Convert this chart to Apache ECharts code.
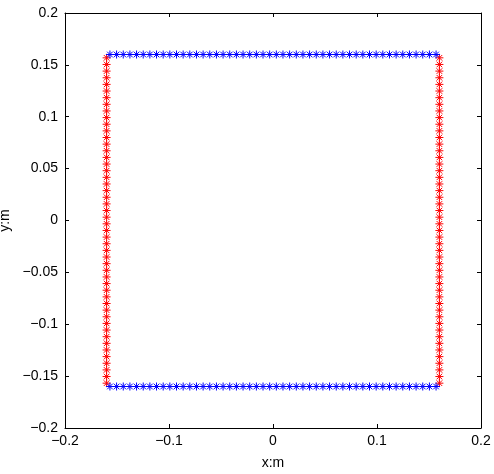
<!DOCTYPE html>
<html><head><meta charset="utf-8">
<script src="https://cdn.jsdelivr.net/npm/echarts@6/dist/echarts.min.js"></script>
<style>html,body{margin:0;padding:0;background:#fff}#c{width:494px;height:474px}</style>
</head><body><div id="c"></div>
<script>
// Positions of the markers along each edge (m)
const edgePositions = [-0.1568,-0.1504,-0.1440,-0.1376,-0.1312,-0.1248,-0.1184,-0.1120,-0.1056,-0.0992,
  -0.0928,-0.0864,-0.0800,-0.0736,-0.0672,-0.0608,-0.0544,-0.0480,-0.0416,-0.0352,
  -0.0288,-0.0224,-0.0160,-0.0096,-0.0032,0.0032,0.0096,0.0160,0.0224,0.0288,
  0.0352,0.0416,0.0480,0.0544,0.0608,0.0672,0.0736,0.0800,0.0864,0.0928,
  0.0992,0.1056,0.1120,0.1184,0.1248,0.1312,0.1376,0.1440,0.1504,0.1568];
const topY = 0.16, bottomY = -0.16, leftX = -0.16, rightX = 0.16;
const xTicks = [-0.2,-0.1,0,0.1,0.2];
const yTicks = [-0.2,-0.15,-0.1,-0.05,0,0.05,0.1,0.15,0.2];

const blueTop = edgePositions.map(x => [x, topY]);
const blueBottom = edgePositions.map(x => [x, bottomY]);
const redLeft = edgePositions.map(y => [leftX, y]);
const redRight = edgePositions.map(y => [rightX, y]);

const star = 'path://M0,5L10,5M5,0L5,10M1.5,1.5L8.5,8.5M1.5,8.5L8.5,1.5';
const fmt = v => { let s = String(Math.round(v*100)/100); return s.replace('-', '\u2212'); };
const font = '"Liberation Sans", Arial, sans-serif';
function sc(data, color){
  return {type:'scatter', data, symbol:star, symbolSize:8, silent:true,
    itemStyle:{color:'none', borderColor:color, borderWidth:1, opacity:1}, xAxisIndex:0, yAxisIndex:0};
}
const chart = echarts.init(document.getElementById('c'), null, {renderer:'canvas'});
const axLine = {show:true, onZero:false, lineStyle:{color:'#000', width:1}};
const tick = {show:true, inside:true, length:4, lineStyle:{color:'#000'}};
chart.setOption({
  animation:false,
  grid:{left:65, right:13, top:13, bottom:46, containLabel:false, outerBoundsMode:'none'},
  xAxis:[
    {type:'value', min:-0.2, max:0.2, interval:0.1, position:'bottom',
     axisLine:axLine, axisTick:tick, splitLine:{show:false},
     axisLabel:{formatter:fmt, color:'#000', fontSize:14, fontFamily:font, margin:6},
     name:'x:m', nameLocation:'middle', nameGap:28, nameTextStyle:{color:'#000', fontSize:14, fontFamily:font}},
    {type:'value', min:-0.2, max:0.2, interval:0.1, position:'top',
     axisLine:axLine, axisTick:tick, splitLine:{show:false}, axisLabel:{show:false}}
  ],
  yAxis:[
    {type:'value', min:-0.2, max:0.2, interval:0.05, position:'left',
     axisLine:axLine, axisTick:tick, splitLine:{show:false},
     axisLabel:{formatter:fmt, color:'#000', fontSize:14, fontFamily:font, margin:7},
     name:'y:m', nameLocation:'middle', nameGap:49, nameTextStyle:{color:'#000', fontSize:14, fontFamily:font}},
    {type:'value', min:-0.2, max:0.2, interval:0.05, position:'right',
     axisLine:axLine, axisTick:tick, splitLine:{show:false}, axisLabel:{show:false}}
  ],
  series:[sc(redLeft,'#ff0000'), sc(redRight,'#ff0000'), sc(blueTop,'#0000ff'), sc(blueBottom,'#0000ff')]
});
</script></body></html>
